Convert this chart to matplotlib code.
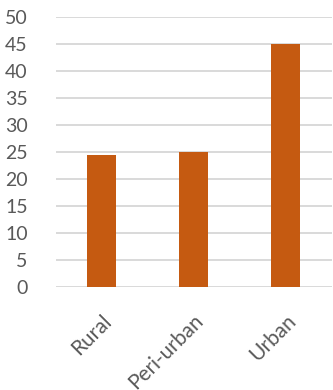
import matplotlib.pyplot as plt

categories = ['Rural', 'Peri-urban', 'Urban']
values = [24.5, 25, 45]
yticks = [0, 5, 10, 15, 20, 25, 30, 35, 40, 45, 50]

plt.rcParams['font.family'] = ['Lato', 'DejaVu Sans']

fig = plt.figure(figsize=(3.33, 3.90), dpi=100)
ax = fig.add_axes([0.1667, 0.264, 0.829, 0.692])

x = range(len(categories))
ax.bar(x, values, width=0.315, color='#C55A11', zorder=3)

ax.set_xlim(-0.5, len(categories) - 0.5)
ax.set_ylim(0, 50)
ax.set_yticks(yticks)
ax.yaxis.grid(True, color='#D9D9D9', linewidth=1.4, zorder=0)
ax.set_axisbelow(True)
for s in ax.spines.values():
    s.set_visible(False)

ax.set_xticks(list(x))
ax.set_xticklabels(categories, rotation=45, ha='right', rotation_mode='anchor')
ax.tick_params(axis='both', length=0, colors='#595959')
ax.tick_params(axis='y', pad=20, labelsize=14)
ax.tick_params(axis='x', pad=17, labelsize=15)

fig.savefig('out.png', dpi=100)
